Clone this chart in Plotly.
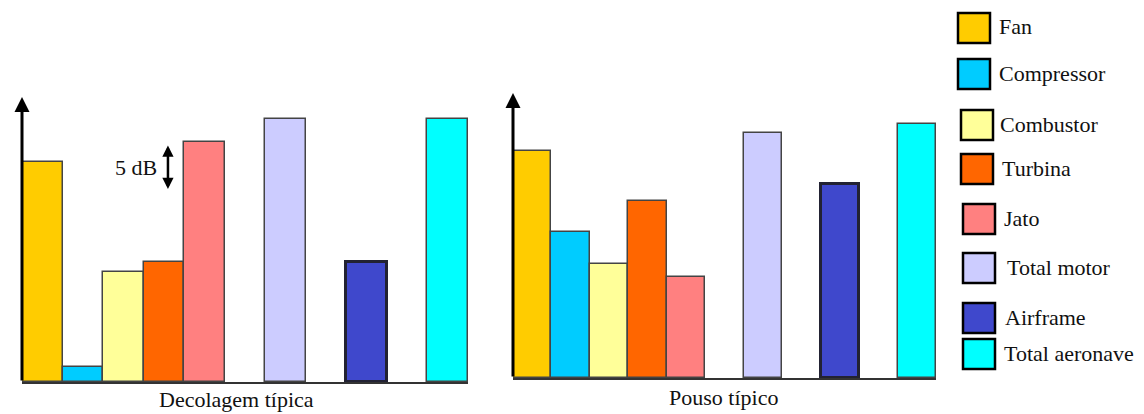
import plotly.graph_objects as go

# ---- data ----
components = ["Fan", "Compressor", "Combustor", "Turbina", "Jato",
              "Total motor", "Airframe", "Total aeronave"]
colors = ["#FFCC00", "#00CCFF", "#FFFF99", "#FF6600", "#FF8080",
          "#CCCCFF", "#3F48CC", "#00FFFF"]
# relative levels (dB, arbitrary reference)
decolagem_db = [24.5, 1.7, 12.2, 13.3, 26.7, 29.2, 13.4, 29.3]
pouso_db = [25.2, 16.2, 12.7, 19.7, 11.2, 27.2, 21.6, 28.2]
# category order with blank spacer slots
slot_order = ["Fan", "Compressor", "Combustor", "Turbina", "Jato", " ",
              "Total motor", "  ", "Airframe", "   ", "Total aeronave"]
panel_titles = ["Decolagem típica", "Pouso típico"]
scale_label = "5 dB"

W, H = 1144, 414
FONT = '"Liberation Serif", "Times New Roman", Times, serif'
FS = 22
line_widths = [3 if c == "Airframe" else 1.5 for c in components]
line_colors = ["#222233" if c == "Airframe" else "#444444" for c in components]

YMAX = 31.7

def px_x(p):
    return p / W

def px_y(p):
    return 1 - p / H

fig = go.Figure()
fig.add_trace(go.Bar(x=components, y=decolagem_db, xaxis="x", yaxis="y",
                     marker=dict(color=colors, line=dict(color=line_colors, width=line_widths)),
                     width=1, showlegend=False, hoverinfo="x+y"))
fig.add_trace(go.Bar(x=components, y=pouso_db, xaxis="x2", yaxis="y2",
                     marker=dict(color=colors, line=dict(color=line_colors, width=line_widths)),
                     width=1, showlegend=False, hoverinfo="x+y"))

xcommon = dict(type="category", categoryorder="array", categoryarray=slot_order,
               showticklabels=False, ticks="", showgrid=False, zeroline=False,
               showline=True, linecolor="#333333", linewidth=2, fixedrange=True)
ycommon = dict(range=[0, YMAX], showticklabels=False, ticks="", showgrid=False,
               zeroline=False, showline=False, fixedrange=True)

fig.update_layout(
    width=W, height=H,
    margin=dict(l=0, r=0, t=0, b=0),
    paper_bgcolor="white", plot_bgcolor="white",
    bargap=0,
    xaxis=dict(domain=[px_x(22), px_x(468)], anchor="y", range=[-0.5, 10.5], **xcommon),
    yaxis=dict(domain=[px_y(382), px_y(97)], anchor="x", **ycommon),
    xaxis2=dict(domain=[px_x(513), px_x(936)], anchor="y2", range=[-0.5, 10.5], **xcommon),
    yaxis2=dict(domain=[px_y(378), px_y(93)], anchor="x2", **ycommon),
    font=dict(family=FONT, color="#111111", size=FS),
)

txtfont = dict(size=FS, family=FONT, color="#111111")
annotations = []
# y axis arrows
for xr, yr in (("x", "y"), ("x2", "y2")):
    annotations.append(dict(xref=xr, yref=yr, axref=xr, ayref=yr,
                            x=-0.5, y=YMAX, ax=-0.5, ay=0, text="",
                            showarrow=True, arrowhead=2, arrowsize=1,
                            arrowwidth=3, arrowcolor="black", standoff=0))
# 5 dB scale arrow
annotations.append(dict(xref="x", yref="y", axref="x", ayref="y",
                        x=3.1, y=26.3, ax=3.1, ay=21.3, text="",
                        showarrow=True, arrowhead=2, arrowside="end+start",
                        arrowsize=0.9, arrowwidth=2.5, arrowcolor="black", standoff=0))
annotations.append(dict(xref="x", yref="y", x=2.87, y=23.9, text=scale_label,
                        showarrow=False, xanchor="right", yanchor="middle",
                        font=txtfont))
# panel titles
annotations.append(dict(xref="paper", yref="paper", x=px_x(236), y=px_y(414),
                        text=panel_titles[0], showarrow=False, xanchor="center",
                        yanchor="bottom", font=txtfont))
annotations.append(dict(xref="paper", yref="paper", x=px_x(723), y=px_y(412),
                        text=panel_titles[1], showarrow=False, xanchor="center",
                        yanchor="bottom", font=txtfont))

# custom legend boxes
box_x0 = [958, 958, 961, 961, 963, 963, 963, 963]
box_y0 = [13, 59, 110, 154, 204, 253, 303, 339]
text_x = [997, 997, 998, 1000, 1002, 1005, 1003, 1002]
shapes = []
for i, name in enumerate(components):
    x0, y0 = box_x0[i], box_y0[i]
    shapes.append(dict(type="rect", xref="paper", yref="paper",
                       x0=px_x(x0), x1=px_x(x0 + 32), y0=px_y(y0 + 30), y1=px_y(y0),
                       fillcolor=colors[i], line=dict(color="black", width=2.5)))
    annotations.append(dict(xref="paper", yref="paper", x=px_x(text_x[i]),
                            y=px_y(y0 + 14), text=name, showarrow=False,
                            xanchor="left", yanchor="middle", font=txtfont))

fig.update_layout(annotations=annotations, shapes=shapes)
fig.write_html("out.html", config={"displayModeBar": False},
               post_script="document.body.style.margin='0';document.body.style.padding='0';")
